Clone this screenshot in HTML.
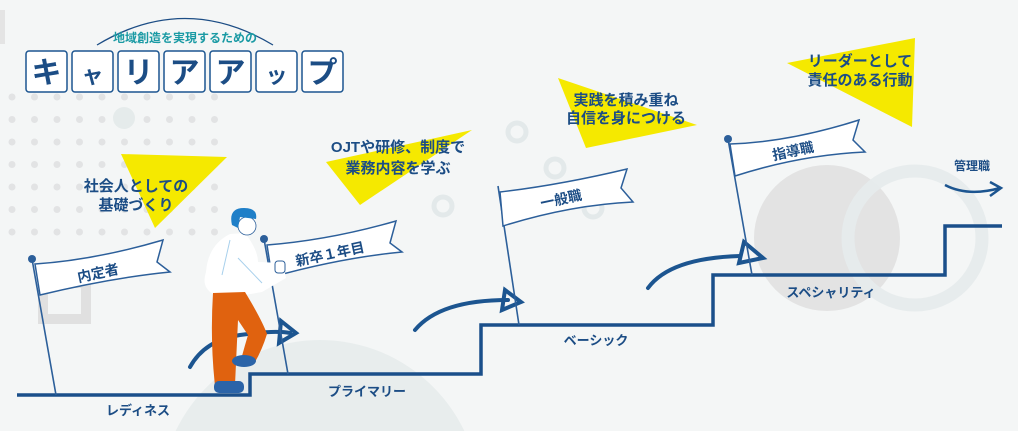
<!DOCTYPE html>
<html><head><meta charset="utf-8"><style>
html,body{margin:0;padding:0;background:#f4f6f6;width:1018px;height:431px;overflow:hidden;}
svg{display:block;overflow:hidden;}
text{font-family:"Liberation Sans","Noto Sans CJK JP",sans-serif;font-weight:bold;fill:#1c4d85;}
</style></head><body>
<svg width="1018" height="431" viewBox="0 0 1018 431" xmlns="http://www.w3.org/2000/svg">
<defs><clipPath id="c"><rect width="1018" height="431"/></clipPath></defs>
<g clip-path="url(#c)">
<rect width="1018" height="431" fill="#f4f6f6"/>
<rect x="0" y="10" width="5" height="34" fill="#e4e4e4"/>
<g fill="#e2e3e4">
<g id="row">
<circle cx="12" cy="97" r="3.5"/><circle cx="34.5" cy="97" r="3.5"/><circle cx="57" cy="97" r="3.5"/><circle cx="79.5" cy="97" r="3.5"/><circle cx="102" cy="97" r="3.5"/><circle cx="124.5" cy="97" r="3.5"/><circle cx="147" cy="97" r="3.5"/><circle cx="169.5" cy="97" r="3.5"/><circle cx="192" cy="97" r="3.5"/><circle cx="214.5" cy="97" r="3.5"/>
</g>
<use href="#row" y="22.5"/><use href="#row" y="45"/><use href="#row" y="67.5"/><use href="#row" y="90"/><use href="#row" y="112.5"/><use href="#row" y="135"/>
</g>
<circle cx="124" cy="118" r="11" fill="#e5ebeb"/>
<rect x="43" y="283" width="43" height="36" fill="none" stroke="#e0e0e0" stroke-width="10"/>
<circle cx="320" cy="500" r="160" fill="#e8eded"/>
<circle cx="827" cy="238" r="73" fill="#e3e3e3"/>
<circle cx="915" cy="238" r="67" fill="none" stroke="#e6ebec" stroke-width="13" opacity="0.9"/>
<g fill="none" stroke="#e3e9ea" stroke-width="5">
<circle cx="517" cy="132" r="9"/><circle cx="555" cy="168" r="9"/><circle cx="593" cy="208" r="9"/><circle cx="443" cy="206" r="9"/>
</g>
<path d="M97,45 Q185,-8 273,45" fill="none" stroke="#1c4d85" stroke-width="1.3"/>
<text x="185" y="42" font-size="12" text-anchor="middle" style="fill:#1a9aa4">地域創造を実現するための</text>
<g fill="#fff" stroke="#1c5590" stroke-width="1.5">
<rect x="26" y="51" width="41" height="41" rx="3"/><rect x="72" y="51" width="41" height="41" rx="3"/><rect x="118" y="51" width="41" height="41" rx="3"/><rect x="164" y="51" width="41" height="41" rx="3"/><rect x="210" y="51" width="41" height="41" rx="3"/><rect x="256" y="51" width="41" height="41" rx="3"/><rect x="302" y="51" width="41" height="41" rx="3"/>
</g>
<g font-size="30" text-anchor="middle">
<text x="46.5" y="83">キ</text><text x="92.5" y="83" font-size="22">ャ</text><text x="138.5" y="83">リ</text><text x="184.5" y="83">ア</text><text x="230.5" y="83">ア</text><text x="276.5" y="83" font-size="22">ッ</text><text x="322.5" y="83">プ</text>
</g>
<g fill="#f5e900">
<polygon points="121,154 227,157 155,228"/>
<polygon points="326,162 472,130 360,205"/>
<polygon points="558,78 697,125 586,148"/>
<polygon points="787,63 915,38 912,127"/>
</g>
<g font-size="15" text-anchor="middle">
<text x="136" y="191">社会人としての</text><text x="136" y="210">基礎づくり</text>
<text x="398" y="152">OJTや研修、制度で</text><text x="398" y="173">業務内容を学ぶ</text>
<text x="626" y="105">実践を積み重ね</text><text x="626" y="123">自信を身につける</text>
<text x="860" y="66">リーダーとして</text><text x="860" y="85">責任のある行動</text>
</g>
<path d="M17,395 H250 V374 H481 V325 H713 V275 H945 V226 H1002" fill="none" stroke="#1a4f8a" stroke-width="3.5"/>
<g font-size="13" text-anchor="middle">
<text x="138" y="415">レディネス</text><text x="367" y="396">プライマリー</text><text x="596" y="345">ベーシック</text><text x="831" y="297">スペシャリティ</text><text x="972" y="170" font-size="12">管理職</text>
</g>
<path d="M945,185 Q968,197 1000,188 M990,182 L1001,188 L990,196" fill="none" stroke="#1c5590" stroke-width="2.5"/>
<g fill="none" stroke="#1c5590" stroke-width="4" stroke-linecap="round">
<path d="M190,367 Q205,340 240,335 T290,333"/>
<path d="M281,321 L296,333 L279,343 Z"/>
<path d="M415,330 Q440,300 508,300"/>
<path d="M505,290 L521,302 L502,310 Z"/>
<path d="M648,288 Q670,258 740,256"/>
<path d="M744,242 L763,258 L739,263 Z"/>
</g>
<g stroke="#2c5f9a" stroke-width="1.6">
<line x1="32" y1="259" x2="56" y2="395"/>
<line x1="264" y1="239" x2="288" y2="374"/>
<line x1="498" y1="186" x2="519" y2="325"/>
<line x1="728" y1="139" x2="752" y2="275"/>
</g>
<g fill="#2c5f9a"><circle cx="32" cy="259" r="4"/><circle cx="264" cy="239" r="4"/><circle cx="728" cy="139" r="4"/></g>
<g fill="#fff" stroke="#2c5f9a" stroke-width="1.5">
<path d="M35,264 Q95,260 163,240 L157,262 L170,272 Q110,278 40,295 Z"/>
<path d="M267,245 Q330,240 396,221 L390,243 L402,252 Q340,258 272,277 Z"/>
<path d="M500,192 Q560,185 627,169 L621,188 L633,202 Q570,205 503,226 Z"/>
<path d="M730,144 Q790,142 859,120 L853,140 L865,152 Q800,155 735,176 Z"/>
</g>
<g font-size="14" text-anchor="middle">
<text x="98" y="278" transform="rotate(-12 98 273)">内定者</text>
<text x="330" y="259" transform="rotate(-12 330 254)">新卒１年目</text>
<text x="561" y="204" transform="rotate(-12 561 199)">一般職</text>
<text x="793" y="156" transform="rotate(-12 793 151)">指導職</text>
</g>
<path d="M206,272 Q208,245 230,234 L245,233 Q258,250 258,262 L283,263 L286,278 L262,292 L245,295 L213,294 Q201,287 206,272 Z" fill="#fff"/>
<path d="M230,240 L222,275 M238,258 L262,283" stroke="#a8d0ec" stroke-width="1" fill="none"/>
<rect x="275" y="261" width="10" height="12" rx="3" fill="#fff" stroke="#2c5f9a" stroke-width="1"/>
<ellipse cx="247" cy="226" rx="9" ry="9" fill="#fff" stroke="#2c5f9a" stroke-width="0.8"/>
<path d="M232,225 Q228,208 244,208 Q258,208 256,219 L240,217 L238,228 Z" fill="#1f7fc8"/>
<path d="M213,293 L245,292 Q262,320 267,334 Q262,350 255,362 L242,356 Q245,345 248,335 L238,320 L235,385 L215,386 Q210,340 213,293 Z" fill="#e0620f"/>
<ellipse cx="244" cy="361" rx="12" ry="6" fill="#2b64a8"/>
<rect x="214" y="381" width="30" height="12" rx="5" fill="#2b64a8"/>
</g>
</svg>
</body></html>
